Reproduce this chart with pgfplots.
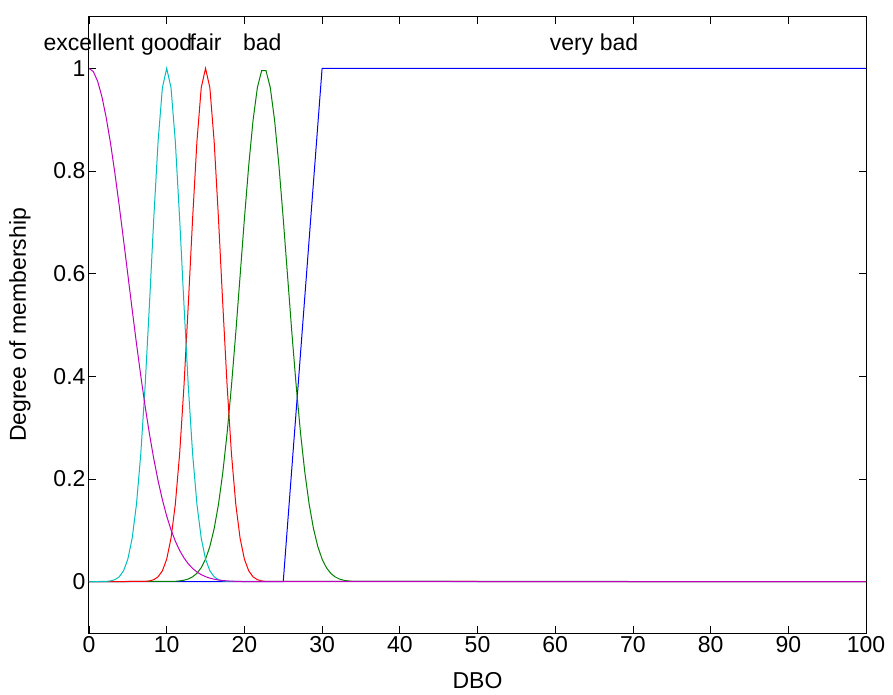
\documentclass[border=0pt]{standalone}
\usepackage{fontspec}
\setmainfont{Liberation Sans}
\usepackage{pgfplots}
\pgfplotsset{compat=1.18}
\definecolor{mblue}{rgb}{0,0,1}
\definecolor{mgreen}{rgb}{0,0.5,0}
\definecolor{mred}{rgb}{1,0,0}
\definecolor{mcyan}{rgb}{0,0.75,0.75}
\definecolor{mmag}{rgb}{0.75,0,0.75}
\begin{document}
\begin{tikzpicture}
\useasboundingbox (-89pt,-62pt) rectangle (804pt,633pt);
\begin{axis}[
  scale only axis, width=777pt, height=616pt,
  xmin=0, xmax=100, ymin=-0.1, ymax=1.1,
  xtick={0,10,...,100}, ytick={0,0.2,0.4,0.6,0.8,1},
  yticklabels={0,0.2,0.4,0.6,0.8,1},
  tick align=inside, major tick length=7pt,
  tick style={black, line width=0.8pt},
  axis line style={black, line width=1pt},
  ticklabel style={font=\fontsize{23}{27}\selectfont},
  /pgf/number format/assume math mode=true,
  clip=false,
  every axis plot/.append style={line width=1pt},
]
\addplot[mblue] coordinates {(0,0) (25,0) (30,1) (100,1)};
\addplot[mgreen] coordinates {
(0,0) (11.111,0.0007) (11.667,0.0015) (12.222,0.0028) (12.778,0.0052) (13.333,0.0094)
(13.889,0.0163) (14.444,0.0272) (15.000,0.0439) (15.556,0.0686) (16.111,0.1035)
(16.667,0.1510) (17.222,0.2128) (17.778,0.2897) (18.333,0.3812) (18.889,0.4846)
(19.444,0.5953) (20.000,0.7067) (20.556,0.8105) (21.111,0.8984) (21.667,0.9622)
(22.222,0.9957) (22.778,0.9957) (23.333,0.9622) (23.889,0.8984) (24.444,0.8105)
(25.000,0.7067) (25.556,0.5953) (26.111,0.4846) (26.667,0.3812) (27.222,0.2897)
(27.778,0.2128) (28.333,0.1510) (28.889,0.1035) (29.444,0.0686) (30.000,0.0439)
(30.556,0.0272) (31.111,0.0163) (31.667,0.0094) (32.222,0.0052) (32.778,0.0028)
(33.333,0.0015) (33.889,0.0007) (100,0)};
\addplot[mred] coordinates {
(0,0) (7.222,0.0005) (7.778,0.0015) (8.333,0.0039) (8.889,0.0094) (9.444,0.0211)
(10,0.0439) (10.556,0.0847) (11.111,0.1510) (11.667,0.2494) (12.222,0.3812)
(12.778,0.5394) (13.333,0.7067) (13.889,0.8570) (14.444,0.9622) (15,1)
(15.556,0.9622) (16.111,0.8570) (16.667,0.7067) (17.222,0.5394) (17.778,0.3812)
(18.333,0.2494) (18.889,0.1510) (19.444,0.0847) (20,0.0439) (20.556,0.0211)
(21.111,0.0094) (21.667,0.0039) (22.222,0.0015) (22.778,0.0005) (100,0)};
\addplot[mcyan] coordinates {
(0,0) (2.222,0.0005) (2.778,0.0015) (3.333,0.0039) (3.889,0.0094) (4.444,0.0211)
(5.000,0.0439) (5.556,0.0847) (6.111,0.1510) (6.667,0.2494) (7.222,0.3812)
(7.778,0.5394) (8.333,0.7067) (8.889,0.8570) (9.444,0.9622) (10,1)
(10.556,0.9622) (11.111,0.8570) (11.667,0.7067) (12.222,0.5394) (12.778,0.3812)
(13.333,0.2494) (13.889,0.1510) (14.444,0.0847) (15.000,0.0439) (15.556,0.0211)
(16.111,0.0094) (16.667,0.0039) (17.222,0.0015) (17.778,0.0005) (100,0)};
\addplot[mmag] coordinates {
(0,1) (0.556,0.9937) (1.111,0.9749) (1.667,0.9445) (2.222,0.9034) (2.778,0.8532)
(3.333,0.7957) (3.889,0.7326) (4.444,0.6660) (5.000,0.5979) (5.556,0.5299)
(6.111,0.4638) (6.667,0.4008) (7.222,0.3419) (7.778,0.2880) (8.333,0.2396)
(8.889,0.1968) (9.444,0.1596) (10.000,0.1278) (10.556,0.1010) (11.111,0.0789)
(11.667,0.0608) (12.222,0.0463) (12.778,0.0348) (13.333,0.0258) (13.889,0.0189)
(14.444,0.0137) (15.000,0.0098) (15.556,0.0069) (16.111,0.0048) (16.667,0.0033)
(17.222,0.0022) (17.778,0.0015) (18.333,0.0010) (18.889,0.0006) (20,0.0002) (100,0)};
\node[anchor=base, font=\fontsize{23}{27}\selectfont] at (axis cs:0,1.034) {excellent};
\node[anchor=base, font=\fontsize{23}{27}\selectfont] at (axis cs:10,1.034) {good};
\node[anchor=base, font=\fontsize{23}{27}\selectfont] at (axis cs:15,1.034) {fair};
\node[anchor=base, font=\fontsize{23}{27}\selectfont] at (axis cs:22.3,1.034) {bad};
\node[anchor=base, font=\fontsize{23}{27}\selectfont] at (axis cs:65,1.034) {very bad};
\end{axis}
\node[rotate=90, font=\fontsize{23}{27}\selectfont] at (-69pt,308pt) {Degree of membership};
\node[font=\fontsize{23}{27}\selectfont] at (388.5pt,-48pt) {DBO};
\end{tikzpicture}
\end{document}
